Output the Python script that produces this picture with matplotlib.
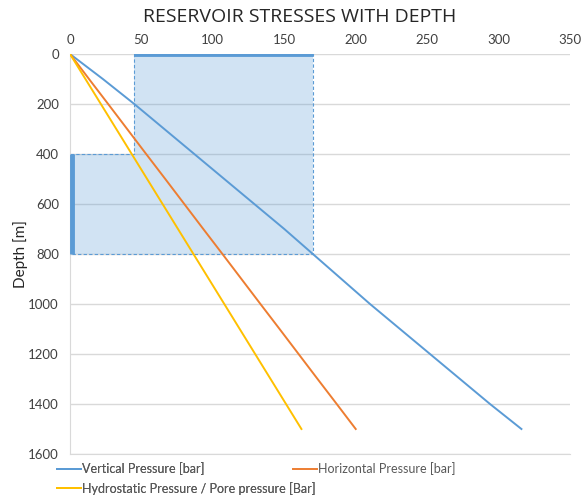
import matplotlib
matplotlib.use("Agg")
import matplotlib.pyplot as plt
from matplotlib.patches import Polygon

# Depth samples [m]
depth = [0, 100, 200, 300, 400, 500, 600, 700, 800, 900, 1000, 1100, 1200, 1300, 1400, 1500]
# Pressures [bar]
vertical = [0, 23, 45, 66, 87, 108, 129, 150, 170, 190, 210, 231, 252, 273, 294, 316]
horizontal = [0, 13.3, 26.7, 40, 53.3, 66.7, 80, 93.3, 106.7, 120, 133.3, 146.7, 160, 173.3, 186.7, 200]
hydrostatic = [0, 10.8, 21.6, 32.4, 43.2, 54, 64.8, 75.6, 86.4, 97.2, 108, 118.8, 129.6, 140.4, 151.2, 162]

# Reservoir zone outline (pressure, depth)
zone_x = [45, 170, 170, 0, 0, 45]
zone_y = [0, 0, 800, 800, 400, 400]
# Highlighted bounds
top_bar_x = [45, 170]
top_bar_y = [0, 0]
side_bar_x = [1.5, 1.5]
side_bar_y = [400, 800]

xticks = [0, 50, 100, 150, 200, 250, 300, 350]
yticks = [0, 200, 400, 600, 800, 1000, 1200, 1400, 1600]

BLUE = "#5B9BD5"
ORANGE = "#ED7D31"
YELLOW = "#FFC000"
GRID = "#D9D9D9"
TXT = "#595959"

plt.rcParams["font.family"] = ["Lato", "DejaVu Sans"]

fig = plt.figure(figsize=(5.81, 5.00), dpi=100)
ax = fig.add_axes([70 / 581, 1 - 454 / 500, 500 / 581, 400 / 500])

ax.add_patch(Polygon(list(zip(zone_x, zone_y)), closed=True, facecolor=BLUE, alpha=0.28,
                     edgecolor="none", zorder=1))
ax.add_patch(Polygon(list(zip(zone_x, zone_y)), closed=True, facecolor="none",
                     edgecolor=BLUE, linestyle=(0, (3, 2)), linewidth=0.8, zorder=2))
ax.plot(top_bar_x, top_bar_y, color=BLUE, linewidth=3.5, solid_capstyle="butt", zorder=4)
ax.plot(side_bar_x, side_bar_y, color=BLUE, linewidth=3.5, solid_capstyle="butt", zorder=4)

l_v, = ax.plot(vertical, depth, color=BLUE, linewidth=1.4, label="Vertical Pressure [bar]", zorder=3)
l_h, = ax.plot(horizontal, depth, color=ORANGE, linewidth=1.4, label="Horizontal Pressure [bar]", zorder=3)
l_p, = ax.plot(hydrostatic, depth, color=YELLOW, linewidth=1.4,
               label="Hydrostatic Pressure / Pore pressure [Bar]", zorder=3)

ax.set_xlim(0, 350)
ax.set_ylim(1600, 0)
ax.set_xticks(xticks)
ax.set_yticks(yticks)
ax.xaxis.tick_top()
ax.tick_params(axis="both", length=0, labelsize=9.5, colors="#404040")
ax.tick_params(axis="x", pad=6)
ax.tick_params(axis="y", pad=8)
ax.yaxis.grid(True, color=GRID, linewidth=1)
ax.set_axisbelow(True)
for s in ["top", "right"]:
    ax.spines[s].set_visible(False)
ax.spines["left"].set_color(GRID)
ax.spines["bottom"].set_color(GRID)

ax.set_ylabel("Depth [m]", fontsize=11, color="#262626", labelpad=0)
fig.text(300 / 581, 0.966, "RESERVOIR STRESSES WITH DEPTH",
         ha="center", va="center", fontsize=14, color="#262626",
         family=["Open Sans", "DejaVu Sans"])

# Legend: left column (vertical, hydrostatic) and right column (horizontal)
leg_kw = dict(frameon=False, fontsize=9, labelcolor=TXT, handlelength=1.9,
              handletextpad=0.1, labelspacing=0.55, borderpad=0.3)
leg1 = fig.legend([l_v, l_p], [l_v.get_label(), l_p.get_label()], loc="upper left",
                  bbox_to_anchor=(47 / 581, 1 - 452 / 500), **leg_kw)
fig.add_artist(leg1)
fig.legend([l_h], [l_h.get_label()], loc="upper left",
           bbox_to_anchor=(283 / 581, 1 - 452 / 500), **leg_kw)

fig.savefig("out.png", dpi=100)
